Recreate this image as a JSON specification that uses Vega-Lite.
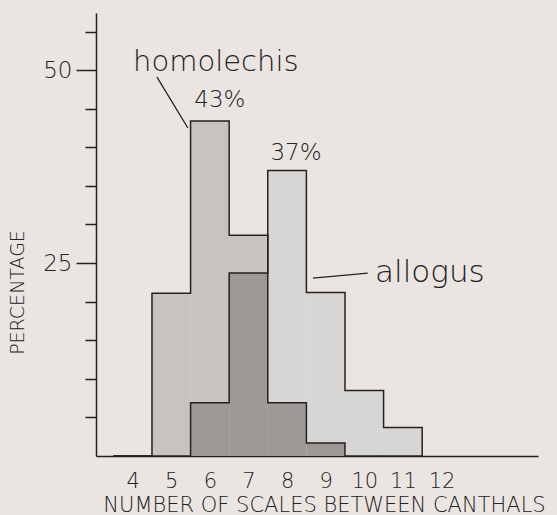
{
  "$schema": "https://vega.github.io/schema/vega-lite/v6.json",
  "width": 442,
  "height": 443,
  "autosize": {"type": "none"},
  "padding": {"left": 96, "top": 13, "right": 19, "bottom": 59},
  "background": "#ebe5e2",
  "config": {
    "view": {"stroke": null},
    "font": "DejaVu Sans",
    "axis": {"domainColor": "#222222", "domainWidth": 1.5, "tickColor": "#222222", "tickWidth": 1.5, "grid": false, "labelColor": "#222222", "titleColor": "#222222", "labelFont": "DejaVu Sans", "titleFont": "DejaVu Sans", "labelFontWeight": 200, "titleFontWeight": 200}
  },
  "datasets": {
    "bins": [
      {"species": "homolechis", "lo": 3.5, "hi": 4.5, "pct": 0},
      {"species": "homolechis", "lo": 4.5, "hi": 5.5, "pct": 21.1},
      {"species": "homolechis", "lo": 5.5, "hi": 6.5, "pct": 43.4},
      {"species": "homolechis", "lo": 6.5, "hi": 7.5, "pct": 28.6},
      {"species": "homolechis", "lo": 7.5, "hi": 8.5, "pct": 6.9},
      {"species": "homolechis", "lo": 8.5, "hi": 9.5, "pct": 1.7},
      {"species": "homolechis", "lo": 9.5, "hi": 10.5, "pct": 0},
      {"species": "homolechis", "lo": 10.5, "hi": 11.5, "pct": 0},
      {"species": "homolechis", "lo": 11.5, "hi": 12.5, "pct": 0},
      {"species": "allogus", "lo": 3.5, "hi": 4.5, "pct": 0},
      {"species": "allogus", "lo": 4.5, "hi": 5.5, "pct": 0},
      {"species": "allogus", "lo": 5.5, "hi": 6.5, "pct": 6.9},
      {"species": "allogus", "lo": 6.5, "hi": 7.5, "pct": 23.7},
      {"species": "allogus", "lo": 7.5, "hi": 8.5, "pct": 37.0},
      {"species": "allogus", "lo": 8.5, "hi": 9.5, "pct": 21.2},
      {"species": "allogus", "lo": 9.5, "hi": 10.5, "pct": 8.5},
      {"species": "allogus", "lo": 10.5, "hi": 11.5, "pct": 3.7},
      {"species": "allogus", "lo": 11.5, "hi": 12.5, "pct": 0}
    ],
    "labels": [
      {"text": "homolechis", "x": 4.01, "y": 49.9, "size": 29, "align": "left"},
      {"text": "43%", "x": 6.26, "y": 45.2, "size": 23, "align": "center"},
      {"text": "37%", "x": 8.23, "y": 38.3, "size": 23, "align": "center"},
      {"text": "allogus", "x": 10.28, "y": 22.5, "size": 31, "align": "left"}
    ],
    "leaders": [
      {"x": 4.63, "y": 49.1, "x2": 5.43, "y2": 42.5},
      {"x": 8.67, "y": 23.06, "x2": 10.09, "y2": 23.7}
    ]
  },
  "resolve": {"axis": {"x": "independent", "y": "independent"}},
  "layer": [
    {
      "data": {"name": "bins"},
      "transform": [{"filter": "datum.species === 'homolechis'"}],
      "mark": {"type": "rect", "fill": "#c9c3bf"},
      "encoding": {
        "x": {"field": "lo", "type": "quantitative", "scale": {"domain": [3.05, 14.5], "nice": false, "zero": false},
              "axis": {"orient": "bottom", "values": [4, 5, 6, 7, 8, 9, 10, 11, 12], "ticks": false, "labelPadding": 14, "labelFontSize": 21, "labelFlush": false,
                       "title": "NUMBER OF SCALES BETWEEN CANTHALS", "titleFontSize": 21, "titlePadding": 3, "titleX": 228}},
        "x2": {"field": "hi"},
        "y": {"field": "pct", "type": "quantitative", "scale": {"domain": [0, 57.4], "nice": false},
              "axis": {"orient": "left", "values": [5, 10, 15, 20, 30, 35, 40, 45, 55], "tickSize": 11, "labels": false, "title": "PERCENTAGE", "titleFontSize": 19, "titleX": -79, "titleY": 279, "titleAngle": -90, "titleBaseline": "middle", "titleAlign": "center"}},
        "y2": {"datum": 0}
      }
    },
    {
      "data": {"name": "bins"},
      "transform": [{"filter": "datum.species === 'allogus'"}],
      "mark": {"type": "rect", "fill": "#d8d6d5"},
      "encoding": {
        "x": {"field": "lo", "type": "quantitative", "axis": null},
        "x2": {"field": "hi"},
        "y": {"field": "pct", "type": "quantitative",
              "axis": {"orient": "left", "values": [25, 50], "tickSize": 20, "domain": false, "labelFontSize": 23, "labelPadding": 4, "title": null}},
        "y2": {"datum": 0}
      }
    },
    {
      "data": {"name": "bins"},
      "transform": [{"aggregate": [{"op": "min", "field": "pct", "as": "pct"}], "groupby": ["lo", "hi"]}],
      "mark": {"type": "rect", "fill": "#9e9996"},
      "encoding": {
        "x": {"field": "lo", "type": "quantitative", "axis": null},
        "x2": {"field": "hi"},
        "y": {"field": "pct", "type": "quantitative", "axis": null},
        "y2": {"datum": 0}
      }
    },
    {
      "data": {"name": "bins"},
      "mark": {"type": "line", "interpolate": "step-after", "color": "#222222", "strokeWidth": 1.5},
      "encoding": {
        "x": {"field": "lo", "type": "quantitative", "axis": null},
        "y": {"field": "pct", "type": "quantitative", "axis": null},
        "detail": {"field": "species"}
      }
    },
    {
      "data": {"name": "leaders"},
      "mark": {"type": "rule", "color": "#222222", "strokeWidth": 1.3},
      "encoding": {
        "x": {"field": "x", "type": "quantitative", "axis": null},
        "y": {"field": "y", "type": "quantitative", "axis": null},
        "x2": {"field": "x2"},
        "y2": {"field": "y2"}
      }
    },
    {
      "data": {"name": "labels"},
      "transform": [{"filter": "datum.align === 'left'"}],
      "mark": {"type": "text", "baseline": "alphabetic", "align": "left", "color": "#222222", "fontWeight": 200},
      "encoding": {
        "x": {"field": "x", "type": "quantitative", "axis": null},
        "y": {"field": "y", "type": "quantitative", "axis": null},
        "text": {"field": "text"},
        "size": {"field": "size", "type": "quantitative", "scale": null}
      }
    },
    {
      "data": {"name": "labels"},
      "transform": [{"filter": "datum.align === 'center'"}],
      "mark": {"type": "text", "baseline": "alphabetic", "align": "center", "color": "#222222", "fontWeight": 200},
      "encoding": {
        "x": {"field": "x", "type": "quantitative", "axis": null},
        "y": {"field": "y", "type": "quantitative", "axis": null},
        "text": {"field": "text"},
        "size": {"field": "size", "type": "quantitative", "scale": null}
      }
    }
  ]
}
